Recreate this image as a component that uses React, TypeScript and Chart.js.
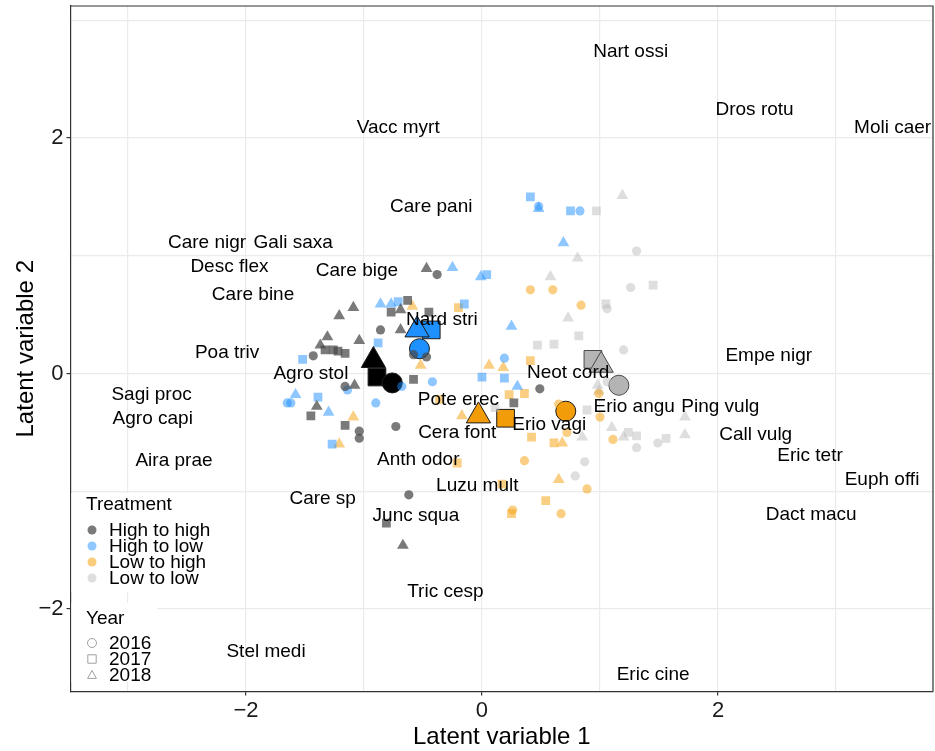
import React, { useEffect, useRef } from 'react';
import { Chart, registerables } from 'chart.js';

Chart.register(...registerables);

type P = [number, number];

const FONT = '"Liberation Sans", Arial, Helvetica, sans-serif';

// Axis ranges and ticks
const X_MIN = -3.487;
const X_MAX = 3.822;
const Y_MIN = -2.7;
const Y_MAX = 3.12;
const labelledTicks = [-2, 0, 2];

const treatments = ['High to high', 'High to low', 'Low to high', 'Low to low'];
const years = ['2016', '2017', '2018'];

// Sites: High to high
const highHigh2016: P[] = [[-0.38, 0.84], [-0.86, 0.37], [-1.43, 0.15], [-0.58, 0.16], [-0.47, 0.14], [-1.16, -0.11], [-1.04, -0.49], [-1.04, -0.55], [-0.73, -0.45], [-0.62, -1.03], [0.49, -0.13]];
const highHigh2017: P[] = [[-0.63, 0.62], [-0.77, 0.52], [-0.45, 0.52], [-1.33, 0.2], [-1.26, 0.2], [-1.22, 0.19], [-1.16, 0.17], [-0.58, -0.05], [-1.45, -0.36], [-1.16, -0.44], [-0.81, -1.27], [0.27, -0.25]];
const highHigh2018: P[] = [[-0.47, 0.89], [-1.09, 0.56], [-1.21, 0.49], [-0.69, 0.54], [-0.69, 0.37], [-1.04, 0.28], [-1.31, 0.31], [-1.37, 0.24], [-1.08, -0.1], [-1.4, -0.28], [-0.67, -1.46]];

// Sites: High to low
const highLow2016: P[] = [[0.48, 1.42], [0.83, 1.38], [0.19, 0.13], [-0.42, -0.07], [-0.68, -0.11], [-0.9, -0.25], [-1.14, -0.14], [-1.65, -0.25], [-1.62, -0.25]];
const highLow2017: P[] = [[0.41, 1.5], [0.75, 1.38], [0.04, 0.84], [-0.71, 0.61], [-0.15, 0.59], [-0.88, 0.26], [-1.52, 0.12], [0.0, -0.03], [0.19, -0.04], [-1.39, -0.2], [-1.27, -0.6]];
const highLow2018: P[] = [[0.48, 1.4], [0.69, 1.11], [-0.01, 0.82], [-0.25, 0.9], [-0.86, 0.59], [-0.77, 0.59], [0.25, 0.4], [0.3, -0.11], [-1.58, -0.18], [-1.3, -0.33]];

// Sites: Low to high
const lowHigh2016: P[] = [[0.41, 0.71], [0.6, 0.71], [0.84, 0.58], [0.99, -0.17], [0.65, -0.26], [1.0, -0.37], [0.72, -0.5], [1.11, -0.56], [0.36, -0.74], [0.89, -0.98], [0.26, -1.16], [0.67, -1.19]];
const lowHigh2017: P[] = [[-0.2, 0.56], [0.41, 0.11], [0.23, -0.18], [0.36, -0.17], [-0.36, -0.22], [0.42, -0.54], [0.61, -0.59], [-0.21, -0.76], [0.17, -0.94], [0.54, -1.08], [0.25, -1.19]];
const lowHigh2018: P[] = [[-0.59, 0.57], [-0.52, 0.07], [0.06, 0.07], [0.18, 0.05], [-0.17, -0.36], [-1.09, -0.37], [-1.21, -0.6], [0.68, -0.59], [0.65, -0.9]];

// Sites: Low to low
const lowLow2016: P[] = [[1.31, 1.04], [1.26, 0.73], [1.06, 0.55], [1.2, 0.2], [1.06, -0.07], [1.31, -0.63], [1.49, -0.59], [0.87, -0.75], [0.79, -0.87]];
const lowLow2017: P[] = [[0.97, 1.38], [1.45, 0.75], [1.05, 0.59], [0.82, 0.32], [0.47, 0.24], [0.61, 0.25], [0.11, -0.29], [0.89, -0.31], [1.24, -0.5], [1.31, -0.53], [1.56, -0.55]];
const lowLow2018: P[] = [[1.19, 1.51], [0.81, 0.98], [0.58, 0.82], [0.73, 0.47], [0.98, -0.1], [0.99, -0.15], [1.1, -0.46], [1.2, -0.54], [0.85, -0.54], [1.72, -0.37], [1.72, -0.52]];

// Centroids per treatment: [2016, 2017, 2018]
const highHighCentroid: P[] = [[-0.76, -0.08], [-0.89, -0.03], [-0.92, 0.11]];
const highLowCentroid: P[] = [[-0.53, 0.21], [-0.43, 0.37], [-0.55, 0.37]];
const lowHighCentroid: P[] = [[0.71, -0.32], [0.2, -0.38], [-0.03, -0.36]];
const lowLowCentroid: P[] = [[1.16, -0.1], [0.94, 0.12], [1.01, 0.07]];

// Species scores
const speciesNames = ['Nart ossi', 'Dros rotu', 'Moli caer', 'Vacc myrt', 'Care pani', 'Care nigr', 'Gali saxa', 'Desc flex', 'Care bige', 'Care bine', 'Nard stri', 'Poa triv', 'Agro stol', 'Neot cord', 'Empe nigr', 'Sagi proc', 'Agro capi', 'Pote erec', 'Erio angu', 'Ping vulg', 'Cera font', 'Erio vagi', 'Call vulg', 'Anth odor', 'Aira prae', 'Eric tetr', 'Euph offi', 'Luzu mult', 'Care sp', 'Dact macu', 'Junc squa', 'Tric cesp', 'Stel medi', 'Eric cine'];
const speciesX = [1.26, 2.31, 3.48, -0.71, -0.43, -2.33, -1.6, -2.14, -1.06, -1.94, -0.34, -2.16, -1.45, 0.73, 2.43, -2.8, -2.79, -0.2, 1.29, 2.02, -0.21, 0.57, 2.32, -0.54, -2.61, 2.78, 3.39, -0.04, -1.35, 2.79, -0.56, -0.31, -1.83, 1.45];
const speciesY = [2.75, 2.26, 2.11, 2.11, 1.44, 1.13, 1.13, 0.93, 0.89, 0.69, 0.48, 0.2, 0.02, 0.03, 0.17, -0.16, -0.36, -0.2, -0.26, -0.26, -0.48, -0.41, -0.5, -0.71, -0.72, -0.68, -0.88, -0.93, -1.04, -1.18, -1.19, -1.83, -2.34, -2.54];

const pointColors = ['rgba(70,70,70,0.72)', 'rgba(30,144,255,0.5)', 'rgba(245,160,10,0.5)', 'rgba(190,190,190,0.5)'];
const legendColors = ['#7a7a7a', '#8fc8ff', '#f9cd7c', '#dedede'];
const centroidColors = ['#000000', '#1e90ff', '#f39c0a', '#b4b4b4'];

const toXY = (arr: P[]) => arr.map(([x, y]) => ({ x, y }));
const fmt = (v: number) => (v < 0 ? '\u2212' + Math.abs(v) : String(v));

function drawShape(ctx: CanvasRenderingContext2D, shape: string, x: number, y: number, r: number) {
  ctx.beginPath();
  if (shape === 'circle') {
    ctx.arc(x, y, r, 0, Math.PI * 2);
  } else if (shape === 'rect') {
    ctx.rect(x - r, y - r, 2 * r, 2 * r);
  } else {
    const h = r * 1.8;
    ctx.moveTo(x, y - h * 0.6);
    ctx.lineTo(x + r * 1.05, y + h * 0.45);
    ctx.lineTo(x - r * 1.05, y + h * 0.45);
    ctx.closePath();
  }
}

const overlayPlugin = {
  id: 'overlay',
  beforeDatasetsDraw(chart: any) {
    const ctx = chart.ctx as CanvasRenderingContext2D;
    const { left } = chart.chartArea;
    ctx.save();
    ctx.fillStyle = '#ffffff';
    ctx.fillRect(left + 1, 493, 146, 99);
    ctx.fillRect(left + 1, 603, 86, 79);
    ctx.restore();
  },
  afterDatasetsDraw(chart: any) {
    const ctx = chart.ctx as CanvasRenderingContext2D;
    const xs = chart.scales.x;
    const ys = chart.scales.y;
    const { left, top, right, bottom } = chart.chartArea;
    ctx.save();
    // species labels
    ctx.fillStyle = '#000';
    ctx.font = `19px ${FONT}`;
    ctx.textAlign = 'center';
    ctx.textBaseline = 'middle';
    speciesNames.forEach((name, i) => {
      ctx.fillText(name, xs.getPixelForValue(speciesX[i]), ys.getPixelForValue(speciesY[i]) + 2.5);
    });
    // legend: treatment
    ctx.textAlign = 'left';
    ctx.fillStyle = '#000';
    ctx.fillText('Treatment', 86, 505);
    treatments.forEach((t, i) => {
      const y = 530 + i * 16;
      ctx.fillStyle = legendColors[i];
      drawShape(ctx, 'circle', 92, y, 4.5);
      ctx.fill();
      ctx.fillStyle = '#000';
      ctx.fillText(t, 109, y + 1);
    });
    // legend: year
    ctx.fillText('Year', 86, 619);
    const shapes = ['circle', 'rect', 'triangle'];
    years.forEach((yr, i) => {
      const y = 643 + i * 16;
      ctx.strokeStyle = '#a0a0a0';
      ctx.lineWidth = 1;
      drawShape(ctx, shapes[i], 92, y, i === 0 ? 4.5 : 4.2);
      ctx.stroke();
      ctx.fillStyle = '#000';
      ctx.fillText(yr, 109, y + 1);
    });
    // panel frame (top & right)
    ctx.strokeStyle = '#333';
    ctx.lineWidth = 1.2;
    ctx.beginPath();
    ctx.moveTo(left, top);
    ctx.lineTo(right, top);
    ctx.lineTo(right, bottom);
    ctx.stroke();
    ctx.restore();
  },
};

const smallStyles = ['circle', 'rect', 'triangle'];
const smallRadius = [4.6, 6.2, 6.8];

const zeroPad = (s: any) => {
  s.paddingTop = 0;
  s.paddingBottom = 0;
  s.paddingLeft = 0;
  s.paddingRight = 0;
};

export default function App() {
  const canvasRef = useRef<HTMLCanvasElement | null>(null);

  useEffect(() => {
    const canvas = canvasRef.current;
    if (!canvas) return;

    const groups: P[][][] = [
      [highHigh2016, highHigh2017, highHigh2018],
      [highLow2016, highLow2017, highLow2018],
      [lowHigh2016, lowHigh2017, lowHigh2018],
      [lowLow2016, lowLow2017, lowLow2018],
    ];
    const datasets: any[] = [];
    groups.forEach((g, ti) => {
      g.forEach((arr, yi) => {
        datasets.push({
          label: `${treatments[ti]} ${years[yi]}`,
          data: toXY(arr),
          pointStyle: smallStyles[yi],
          pointRadius: smallRadius[yi],
          backgroundColor: pointColors[ti],
          borderWidth: 0,
          borderColor: 'rgba(0,0,0,0)',
        });
      });
    });
    const centroids = [highHighCentroid, highLowCentroid, lowHighCentroid, lowLowCentroid];
    centroids.forEach((c, ti) => {
      // draw order: square, triangle, circle
      const order = [1, 2, 0];
      datasets.push({
        label: `${treatments[ti]} centroid`,
        data: order.map((k) => ({ x: c[k][0], y: c[k][1] })),
        pointStyle: order.map((k) => smallStyles[k]),
        pointRadius: order.map((k) => [10, 12.5, 14][k]),
        backgroundColor: centroidColors[ti],
        borderColor: ti === 3 ? '#4a4a4a' : '#1a1a1a',
        borderWidth: 1,
      });
    });

    const chart = new Chart(canvas, {
      type: 'scatter',
      data: { datasets },
      options: {
        animation: false,
        responsive: false,
        devicePixelRatio: 1,
        events: [],
        layout: { autoPadding: false, padding: { top: 6, right: 2, left: 0, bottom: 0 } },
        plugins: { legend: { display: false }, tooltip: { enabled: false } },
        scales: {
          x: {
            type: 'linear',
            min: X_MIN,
            max: X_MAX,
            afterFit: (s: any) => {
              s.height = 59.5;
              zeroPad(s);
            },
            ticks: {
              stepSize: 1,
              includeBounds: false,
              autoSkip: false,
              maxRotation: 0,
              padding: 2,
              color: '#1a1a1a',
              font: { size: 22, family: FONT },
              callback: (v: any) => (labelledTicks.includes(Number(v)) ? fmt(Number(v)) : ''),
            },
            grid: {
              color: '#ebebeb',
              lineWidth: 1.2,
              tickLength: 4,
              tickColor: (c: any) => (c.tick && labelledTicks.includes(c.tick.value) ? '#333' : 'rgba(0,0,0,0)'),
            },
            border: { display: true, color: '#333', width: 1.2 },
            title: {
              display: true,
              text: 'Latent variable 1',
              color: '#000',
              font: { size: 24, family: FONT, lineHeight: 1.15 },
              padding: { top: 0, bottom: 0 },
            },
          },
          y: {
            type: 'linear',
            min: Y_MIN,
            max: Y_MAX,
            afterFit: (s: any) => {
              s.width = 70.5;
              zeroPad(s);
            },
            ticks: {
              stepSize: 1,
              includeBounds: false,
              autoSkip: false,
              padding: 3,
              color: '#1a1a1a',
              font: { size: 22, family: FONT },
              callback: (v: any) => (labelledTicks.includes(Number(v)) ? fmt(Number(v)) : ''),
            },
            grid: {
              color: '#ebebeb',
              lineWidth: 1.2,
              tickLength: 4,
              tickColor: (c: any) => (c.tick && labelledTicks.includes(c.tick.value) ? '#333' : 'rgba(0,0,0,0)'),
            },
            border: { display: true, color: '#333', width: 1.2 },
            title: {
              display: true,
              text: 'Latent variable 2',
              color: '#000',
              font: { size: 24, family: FONT },
              padding: { top: 12, bottom: 0 },
            },
          },
        },
      },
      plugins: [overlayPlugin],
    });

    return () => {
      chart.destroy();
    };
  }, []);

  return (
    <canvas
      ref={canvasRef}
      width={935}
      height={751}
      style={{ position: 'absolute', left: 0, top: 0, width: 935, height: 751 }}
    />
  );
}
